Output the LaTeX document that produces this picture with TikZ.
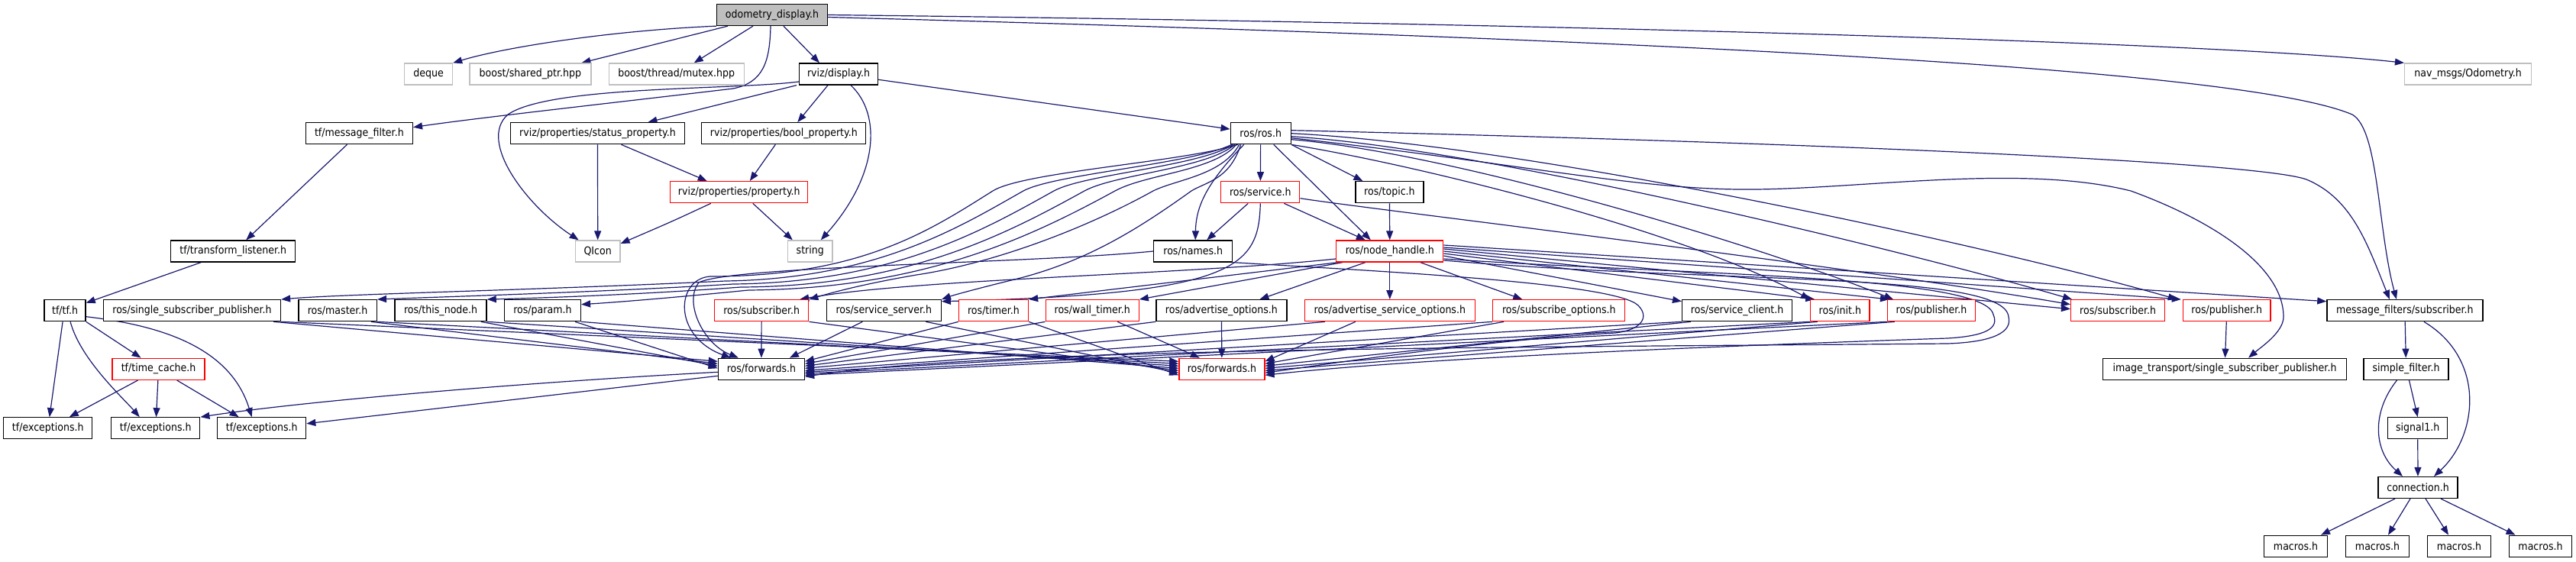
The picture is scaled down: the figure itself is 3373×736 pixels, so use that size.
\documentclass[tikz,border=0pt]{standalone}
\usepackage{fontspec}
\setmainfont{DejaVu Sans}[FakeStretch=0.9]
\usetikzlibrary{arrows.meta}
\definecolor{edgec}{HTML}{191970}
\definecolor{redc}{HTML}{FF0000}
\definecolor{grayc}{HTML}{BFBFBF}
\pgfdeclarelayer{bg}
\pgfsetlayers{bg,main}
\tikzset{
  box/.style={draw=black, line width=1.3pt, fill=white, minimum height=28pt, inner sep=0pt,
    font=\fontsize{14}{16}\selectfont},
  redbox/.style={box, draw=redc},
  graybox/.style={box, draw=grayc},
  edge/.style={draw=edgec, line width=1.2pt, -{Triangle[length=12pt,width=9pt]}},
}
\begin{document}
\begin{tikzpicture}[x=1pt,y=-1pt]
\useasboundingbox (0,0) rectangle (3373,736);
% row 0
\node[box, fill=grayc, minimum width=145] (odom) at (1011,19.5) {odometry\_display.h};
% row 1
\node[graybox, minimum width=63] (deque) at (561,97) {deque};
\node[graybox, minimum width=159] (sharedptr) at (694.4,97) {boost/shared\_ptr.hpp};
\node[graybox, minimum width=177] (mutex) at (885.7,97) {boost/thread/mutex.hpp};
\node[box, minimum width=103] (display) at (1098,97) {rviz/display.h};
\node[graybox, minimum width=166] (navodom) at (3231.6,97) {nav\_msgs/Odometry.h};
% row 2
\node[box, minimum width=140] (msgfilter) at (470.4,174.7) {tf/message\_filter.h};
\node[box, minimum width=228] (status) at (782.5,174.7) {rviz/properties/status\_property.h};
\node[box, minimum width=215] (boolp) at (1026.3,174.7) {rviz/properties/bool\_property.h};
\node[box, minimum width=79] (ros) at (1650.7,174.7) {ros/ros.h};
% row 3
\node[redbox, minimum width=180] (property) at (967.8,251.7) {rviz/properties/property.h};
\node[redbox, minimum width=103] (service) at (1650.3,251.7) {ros/service.h};
\node[box, minimum width=89] (topic) at (1819.4,251.7) {ros/topic.h};
% row 4
\node[box, minimum width=163] (translis) at (305.2,329) {tf/transform\_listener.h};
\node[graybox, minimum width=58.5] (qicon) at (782.7,329) {QIcon};
\node[graybox, minimum width=58.5] (string) at (1060.8,329) {string};
\node[box, minimum width=103] (names) at (1562.2,329) {ros/names.h};
\node[redbox, minimum width=140] (nh) at (1819.8,329) {ros/node\_handle.h};
% row 5
\node[box, minimum width=54] (tf) at (85.1,406.7) {tf/tf.h};
\node[box, minimum width=232] (ssp) at (251.5,406.7) {ros/single\_subscriber\_publisher.h};
\node[box, minimum width=102.4] (master) at (442.1,406.7) {ros/master.h};
\node[box, minimum width=120] (thisnode) at (577.1,406.7) {ros/this\_node.h};
\node[box, minimum width=100] (param) at (710.4,406.7) {ros/param.h};
\node[redbox, minimum width=123] (subL) at (997.2,406.7) {ros/subscriber.h};
\node[box, minimum width=150] (srvserver) at (1157.3,406.7) {ros/service\_server.h};
\node[redbox, minimum width=91] (timer) at (1301,406.7) {ros/timer.h};
\node[redbox, minimum width=122] (walltimer) at (1430.2,406.7) {ros/wall\_timer.h};
\node[box, minimum width=171] (advopt) at (1599.4,406.7) {ros/advertise\_options.h};
\node[redbox, minimum width=223] (advsrv) at (1819.8,406.7) {ros/advertise\_service\_options.h};
\node[redbox, minimum width=173] (subopt) at (2041.3,406.7) {ros/subscribe\_options.h};
\node[box, minimum width=144] (srvclient) at (2274.6,406.7) {ros/service\_client.h};
\node[redbox, minimum width=77.5] (init) at (2409.3,406.7) {ros/init.h};
\node[redbox, minimum width=115] (pubM) at (2529,406.7) {ros/publisher.h};
\node[redbox, minimum width=123] (subR) at (2773.1,406.7) {ros/subscriber.h};
\node[redbox, minimum width=114.4] (pubR) at (2915.8,406.7) {ros/publisher.h};
\node[box, minimum width=204] (mfsub) at (3148.9,406.7) {message\_filters/subscriber.h};
% row 6
\node[redbox, minimum width=121] (timecache) at (207.6,483.3) {tf/time\_cache.h};
\node[box, minimum width=113] (fwdB) at (996.9,483.3) {ros/forwards.h};
\node[redbox, minimum width=112] (fwdR) at (1599.9,483.3) {ros/forwards.h};
\node[box, minimum width=318.5] (itssp) at (2913,483.3) {image\_transport/single\_subscriber\_publisher.h};
\node[box, minimum width=111] (simplefilter) at (3150.5,483.3) {simple\_filter.h};
% row 7
\node[box, minimum width=116] (exc1) at (62.8,560.8) {tf/exceptions.h};
\node[box, minimum width=116] (exc2) at (203.8,560.8) {tf/exceptions.h};
\node[box, minimum width=116] (exc3) at (342.7,560.8) {tf/exceptions.h};
\node[box, minimum width=78] (signal1) at (3165.7,560.8) {signal1.h};
% row 8
\node[box, minimum width=104] (connection) at (3166,638.5) {connection.h};
% row 9
\node[box, minimum width=83] (mac1) at (3006,715.3) {macros.h};
\node[box, minimum width=83] (mac2) at (3113,715.3) {macros.h};
\node[box, minimum width=83] (mac3) at (3220,715.3) {macros.h};
\node[box, minimum width=82] (mac4) at (3326.5,715.3) {macros.h};

\begin{pgfonlayer}{bg}
% odometry_display.h
\draw[edge] (odom.south west) .. controls (800,40) and (660,62) .. (deque.north east);
\draw[edge] ([xshift=-58]odom.south) -- ([xshift=67]sharedptr.north);
\draw[edge] ([xshift=-25]odom.south) -- ([xshift=23]mutex.north);
\draw[edge] ([xshift=15]odom.south) -- ([xshift=-25]display.north);
\draw[edge] ([xshift=-2]odom.south) .. controls (1008,80) and (1000,108) .. (960,116) .. controls (800,135) and (620,155) .. ([yshift=8]msgfilter.east);
\draw[edge] (odom.east) .. controls (2000,30) and (2900,55) .. (navodom.north west);
\draw[edge] ([yshift=-3]odom.east) .. controls (2300,55) and (2950,95) .. (3080,150) .. controls (3115,170) and (3113,300) .. ([xshift=-11]mfsub.north);
% rviz/display.h
\draw[edge] (display) -- (ros);
\draw[edge] ([xshift=-55]display.south) -- ([xshift=66]status.north);
\draw[edge] ([xshift=-14]display.south) -- ([xshift=18]boolp.north);
\draw[edge] ([xshift=16]display.south) .. controls (1155,150) and (1150,230) .. ([xshift=14]string.north);
\draw[edge] ([yshift=-10]display.west) .. controls (960,118) and (720,112) .. (665,150) .. controls (625,185) and (690,270) .. ([xshift=-25]qicon.north);
% properties
\draw[edge] ([xshift=31]status.south) -- ([xshift=-42]property.north);
\draw[edge] ([xshift=-11]boolp.south) -- ([xshift=14]property.north);
\draw[edge] (status) -- (qicon);
\draw[edge] ([xshift=-37]property.south) .. controls (880,290) .. ([yshift=10]qicon.east);
\draw[edge] ([xshift=18]property.south) -- ([xshift=-23]string.north);
% tf
\draw[edge] ([xshift=-16]msgfilter.south) -- ([xshift=17]translis.north);
\draw[edge] ([xshift=-42]translis.south) -- ([yshift=10]tf.east);
\draw[edge] ([xshift=-3]tf.south) -- ([xshift=2]exc1.north);
\draw[edge] ([xshift=7]tf.south) .. controls (105,470) and (160,520) .. ([xshift=-21]exc2.north);
\draw[edge] (tf.south east) -- ([xshift=-23]timecache.north);
\draw[edge] ([yshift=-8]tf.east) .. controls (200,425) and (300,450) .. ([xshift=-13]exc3.north);
\draw[edge] ([xshift=-27]timecache.south) -- ([xshift=28]exc1.north);
\draw[edge] (timecache) -- (exc2);
\draw[edge] ([xshift=24]timecache.south) -- ([xshift=-30]exc3.north);
\draw[edge] ([yshift=-4]fwdB.west) .. controls (700,500) and (400,525) .. (exc2.north east);
\draw[edge] ([yshift=-9]fwdB.west) -- ([yshift=6]exc3.east);
% ros/ros.h
\draw[edge] (ros) -- (service);
\draw[edge] (ros.south east) -- ([xshift=-35]topic.north);
\draw[edge] ([xshift=17]ros.south) -- ([xshift=-25]nh.north);
\draw[edge] ([xshift=-22]ros.south) .. controls (1580,240) and (1566,270) .. ([xshift=3]names.north);
\draw[edge] ([xshift=-38]ros.south) .. controls (1560,215) and (1380,228) .. (1340,250) .. controls (1260,295) and (1150,365) .. (950,368) .. controls (700,380) and (450,385) .. (ssp.north east);
\draw[edge] ([xshift=-36]ros.south) .. controls (1570,218) and (1420,228) .. (1380,250) .. controls (1290,300) and (1170,370) .. (960,372) .. controls (800,382) and (600,388) .. (master.north east);
\draw[edge] ([xshift=-34]ros.south) .. controls (1580,221) and (1460,228) .. (1420,250) .. controls (1320,305) and (1190,375) .. (970,376) .. controls (850,385) and (720,390) .. (thisnode.north east);
\draw[edge] ([xshift=-32]ros.south) .. controls (1590,224) and (1500,228) .. (1460,250) .. controls (1350,310) and (1210,378) .. (980,380) .. controls (900,388) and (820,395) .. ([yshift=8]param.east);
\draw[edge] ([xshift=-30]ros.south) .. controls (1550,212) and (1340,225) .. (1300,250) .. controls (1220,300) and (1130,362) .. (930,362) .. controls (885,365) and (880,440) .. ([xshift=-40]fwdB.north);
\draw[edge] ([xshift=-28]ros.south) .. controls (1600,230) and (1540,235) .. (1510,250) .. controls (1420,300) and (1300,345) .. (1200,360) .. controls (1130,372) and (1090,383) .. (subL.north east);
\draw[edge] ([xshift=-26]ros.south) .. controls (1610,235) and (1580,238) .. (1560,250) .. controls (1490,300) and (1420,345) .. (1320,368) .. controls (1280,378) and (1250,386) .. (srvserver.north east);
\draw[edge] (ros.south east) .. controls (1850,215) and (2200,300) .. (init.north west);
\draw[edge] ([yshift=-8]ros.east) .. controls (1900,200) and (2300,320) .. ([xshift=-50]pubM.north);
\draw[edge] ([yshift=-4]ros.east) .. controls (1950,195) and (2500,330) .. ([xshift=-60]subR.north);
\draw[edge] (ros.east) .. controls (2000,190) and (2600,320) .. ([xshift=-65]pubR.north);
\draw[edge] ([yshift=4]ros.east) .. controls (2300,185) and (2950,210) .. (3020,235) .. controls (3080,260) and (3100,320) .. ([xshift=-20]mfsub.north);
\draw[edge] ([yshift=-6]ros.east) .. controls (2000,215) and (2150,250) .. (2300,248) .. controls (2450,246) and (2650,215) .. (2790,250) .. controls (2900,290) and (2990,350) .. (2990,415) .. controls (2990,435) and (2960,455) .. ([xshift=31]itssp.north);
% ros/service.h, ros/topic.h
\draw[edge] ([xshift=-16]service.south) -- ([xshift=18]names.north);
\draw[edge] ([xshift=31]service.south) -- ([xshift=-32]nh.north);
\draw[edge] (topic) -- (nh);
\draw[edge] (service.south) .. controls (1648,350) and (1620,385) .. ([yshift=12]srvserver.east);
\draw[edge] ([yshift=-8]service.east) .. controls (1800,275) and (2400,345) .. ([yshift=8]subR.west);
% ros/names.h
\draw[edge] (names.west) .. controls (1350,345) and (960,348) .. (915,370) .. controls (895,395) and (920,450) .. ([xshift=-30]fwdB.north);
\draw[edge] (names.south east) .. controls (1800,355) and (2115,370) .. (2145,400) .. controls (2160,415) and (2150,432) .. (2115,436) .. controls (1950,445) and (1750,475) .. ([yshift=-5]fwdR.east);
% ros/node_handle.h
\draw[edge] ([xshift=-68]nh.south) -- (timer.north east);
\draw[edge] ([xshift=-62]nh.south) -- (walltimer.north east);
\draw[edge] ([xshift=-32]nh.south) -- ([xshift=50]advopt.north);
\draw[edge] (nh) -- (advsrv);
\draw[edge] ([xshift=40]nh.south) -- ([xshift=-48]subopt.north);
\draw[edge] ([yshift=-6]nh.east) -- ([yshift=12]srvclient.west);
\draw[edge] ([yshift=-3]nh.east) -- ([xshift=-33]init.north);
\draw[edge] (nh.east) -- ([xshift=-55]pubM.north);
\draw[edge] ([yshift=3]nh.east) -- ([yshift=2]subR.west);
\draw[edge] ([yshift=5]nh.east) -- ([xshift=-60]pubR.north);
\draw[edge] ([yshift=8]nh.east) -- ([yshift=12]mfsub.west);
\draw[edge] ([yshift=-10]nh.west) .. controls (1550,360) and (1200,365) .. ([xshift=50]subL.north);
\draw[edge] ([yshift=-10]nh.east) .. controls (2200,360) and (2600,360) .. (2610,412) .. controls (2618,430) and (2600,440) .. (2550,443) .. controls (2200,455) and (1850,470) .. ([yshift=-8]fwdR.east);
\draw[edge] ([yshift=-12]nh.east) .. controls (2250,372) and (2625,355) .. (2630,415) .. controls (2635,435) and (2610,448) .. (2550,450) .. controls (2000,455) and (1300,455) .. ([yshift=-10]fwdB.east);
% row 5 -> ros/forwards.h
\draw[edge] ([xshift=-10]ssp.south east) -- ([yshift=10]fwdB.west);
\draw[edge] (ssp.south east) -- ([yshift=10]fwdR.west);
\draw[edge] ([xshift=-8]master.south east) -- ([yshift=7]fwdB.west);
\draw[edge] (master.south east) -- ([yshift=7]fwdR.west);
\draw[edge] ([xshift=-8]thisnode.south east) -- ([yshift=4]fwdB.west);
\draw[edge] (thisnode.south east) -- ([yshift=4]fwdR.west);
\draw[edge] ([xshift=-8]param.south east) -- ([yshift=1]fwdB.west);
\draw[edge] (param.south east) -- ([yshift=1]fwdR.west);
\draw[edge] (subL) -- (fwdB);
\draw[edge] (subL.south east) -- ([yshift=-2]fwdR.west);
\draw[edge] ([xshift=-28]srvserver.south) -- ([xshift=37]fwdB.north);
\draw[edge] ([xshift=55]srvserver.south) -- ([yshift=-5]fwdR.west);
\draw[edge] (timer.south west) -- ([yshift=10]fwdB.east);
\draw[edge] (timer.south east) -- ([yshift=-8]fwdR.west);
\draw[edge] (walltimer.south west) -- ([yshift=7]fwdB.east);
\draw[edge] ([xshift=33]walltimer.south) -- ([xshift=-29]fwdR.north);
\draw[edge] (advopt) -- (fwdR);
\draw[edge] (advopt.south west) -- ([yshift=4]fwdB.east);
\draw[edge] ([xshift=-85]advsrv.south) -- ([yshift=1]fwdB.east);
\draw[edge] ([xshift=-45]advsrv.south) -- ([yshift=10]fwdR.east);
\draw[edge] (subopt.south west) -- ([yshift=-2]fwdB.east);
\draw[edge] ([xshift=15]subopt.south west) -- ([yshift=7]fwdR.east);
\draw[edge] (srvclient.south west) -- ([yshift=-4]fwdB.east);
\draw[edge] ([xshift=12]srvclient.south west) -- ([yshift=4]fwdR.east);
\draw[edge] (init.south west) -- ([yshift=-6]fwdB.east);
\draw[edge] ([xshift=10]init.south west) -- ([yshift=1]fwdR.east);
\draw[edge] (pubM.south west) -- ([yshift=-8]fwdB.east);
\draw[edge] ([xshift=10]pubM.south west) -- ([yshift=-2]fwdR.east);
% right part
\draw[edge] (pubR) -- (itssp);
\draw[edge] (mfsub) -- (simplefilter);
\draw[edge] ([xshift=25]mfsub.south) .. controls (3255,470) and (3245,570) .. ([xshift=21]connection.north);
\draw[edge] ([xshift=-12]simplefilter.south) .. controls (3105,540) and (3108,590) .. ([xshift=-20]connection.north);
\draw[edge] ([xshift=4]simplefilter.south) -- (signal1.north);
\draw[edge] (signal1) -- (connection);
\draw[edge] ([xshift=-30]connection.south) -- ([xshift=33]mac1.north);
\draw[edge] ([xshift=-10]connection.south) -- ([xshift=14]mac2.north);
\draw[edge] ([xshift=10]connection.south) -- ([xshift=-14]mac3.north);
\draw[edge] ([xshift=30]connection.south) -- ([xshift=-33]mac4.north);
\end{pgfonlayer}
\end{tikzpicture}
\end{document}
